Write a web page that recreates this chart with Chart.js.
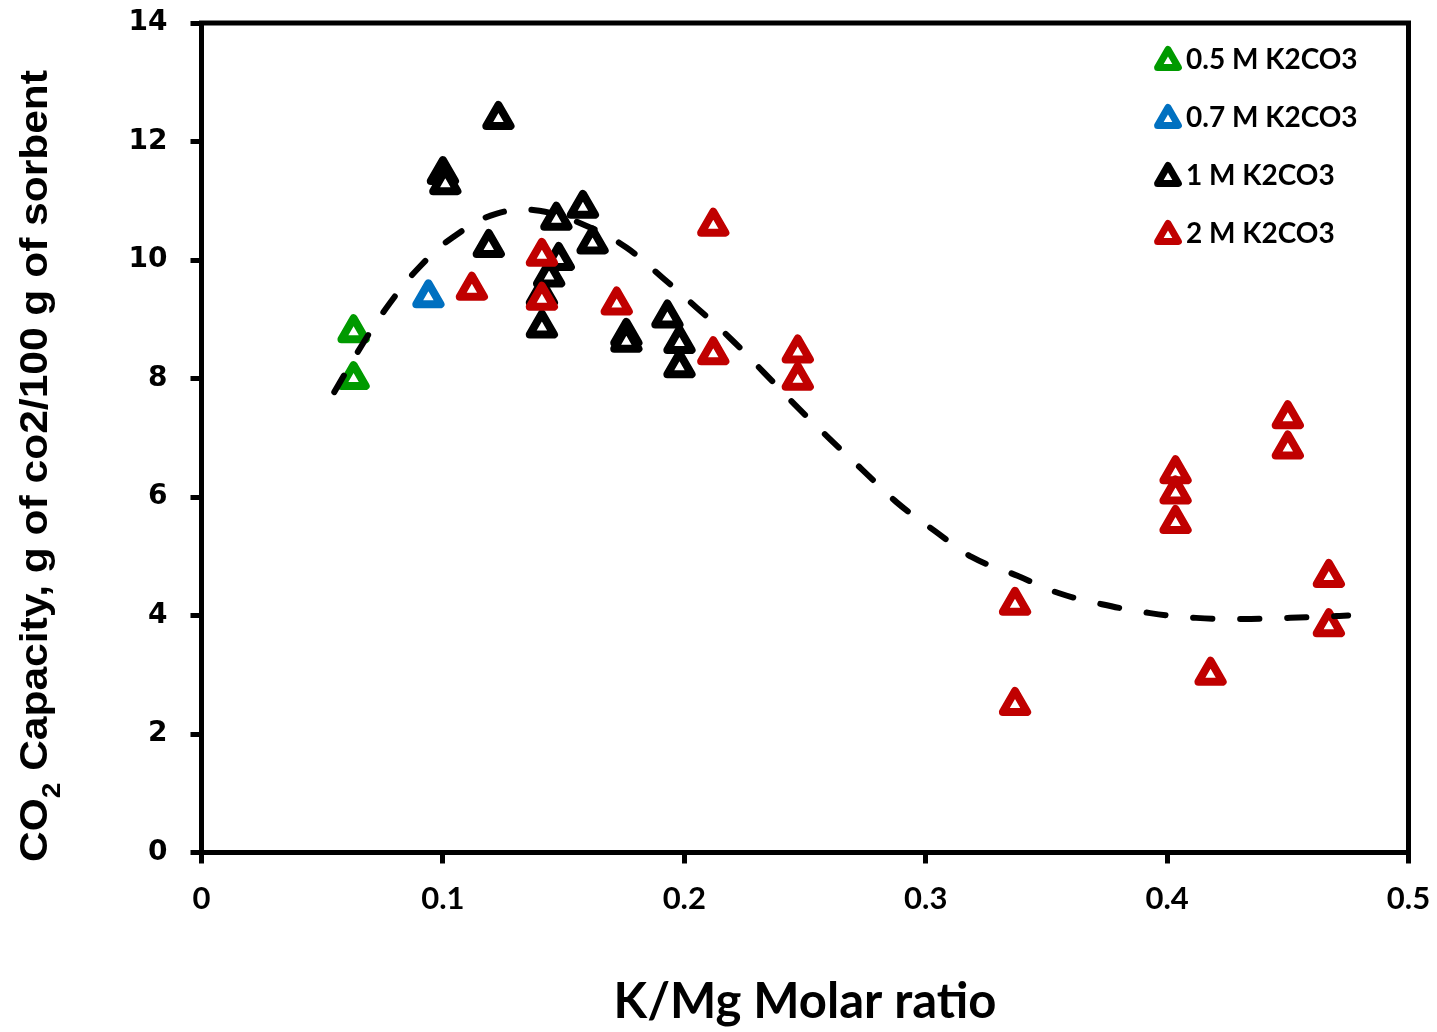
<!DOCTYPE html>
<html>
<head>
<meta charset="utf-8">
<script src="https://cdn.jsdelivr.net/npm/chart.js@4.4.1/dist/chart.umd.min.js"></script>
<style>
  html, body { margin: 0; padding: 0; background: #fff; }
  #wrap { width: 1437px; height: 1032px; }
</style>
</head>
<body>
<div id="wrap"><canvas id="chart"></canvas></div>
<script>
// values
const xTicks = [0, 0.1, 0.2, 0.3, 0.4, 0.5];
const yTicks = [0, 2, 4, 6, 8, 10, 12, 14];

const seriesLabels = ['0.5 M K2CO3', '0.7 M K2CO3', '1 M K2CO3', '2 M K2CO3'];

const k05X = [0.063, 0.063];
const k05Y = [8.78, 7.99];

const k07X = [0.094];
const k07Y = [9.37];

const k1X = [0.123, 0.100, 0.101, 0.119, 0.141, 0.141, 0.144, 0.148, 0.147, 0.158, 0.162, 0.176, 0.176, 0.193, 0.198, 0.198];
const k1Y = [12.38, 11.45, 11.28, 10.22, 8.86, 9.40, 9.72, 10.00, 10.68, 10.88, 10.28, 8.72, 8.62, 9.03, 8.60, 8.19];

const k2X = [0.112, 0.141, 0.141, 0.172, 0.212, 0.212, 0.247, 0.247, 0.337, 0.337, 0.4035, 0.4035, 0.4035, 0.418, 0.450, 0.450, 0.467, 0.467];
const k2Y = [9.50, 9.33, 10.07, 9.25, 10.58, 8.41, 8.44, 7.98, 4.18, 2.49, 6.40, 6.06, 5.56, 3.00, 7.33, 6.82, 4.65, 3.82];

// dashed trend line
const trendX = [0.055, 0.067, 0.078, 0.090, 0.104, 0.122, 0.140, 0.161, 0.176, 0.191, 0.205, 0.219, 0.233, 0.246, 0.260, 0.274, 0.288, 0.304, 0.319, 0.338, 0.355, 0.373, 0.393, 0.412, 0.431, 0.451, 0.470, 0.475];
const trendY = [7.77, 8.60, 9.27, 9.87, 10.38, 10.78, 10.83, 10.55, 10.21, 9.70, 9.20, 8.68, 8.10, 7.55, 6.99, 6.45, 5.91, 5.42, 4.99, 4.67, 4.38, 4.19, 4.04, 3.96, 3.94, 3.96, 3.99, 4.00];

const GREEN = '#009A00', BLUE = '#0070C0', BLACK = '#000000', RED = '#C00000';

function pts(xs, ys){
  return xs.map((x, i) => ({ x: x, y: ys[i] }));
}

function markerSet(label, xs, ys, color, order){
  return {
    label: label,
    data: pts(xs, ys),
    order: order,
    inLegend: true,
    pointStyle: 'triangle',
    pointRadius: 14,
    pointHoverRadius: 14,
    pointBorderWidth: 8,
    pointBorderColor: color,
    borderColor: color,
    pointBackgroundColor: '#fff',
    backgroundColor: '#fff',
    showLine: false
  };
}

// pin the axis sizes and drop the extra label padding so the plot box stays put
function pinScale(size, horizontal){
  return s => {
    if(horizontal){ s.height = size; } else { s.width = size; }
    s.paddingTop = 0; s.paddingBottom = 0; s.paddingLeft = 0; s.paddingRight = 0;
  };
}

// round corners on the triangle markers
const roundJoins = {
  id: 'roundJoins',
  beforeDatasetsDraw(chart){ chart.ctx.save(); chart.ctx.lineJoin = 'round'; },
  afterDatasetsDraw(chart){ chart.ctx.restore(); }
};

// box round the plot area
const frame = {
  id: 'frame',
  afterDraw(chart){
    const a = chart.chartArea, ctx = chart.ctx;
    ctx.save();
    ctx.strokeStyle = '#000';
    ctx.lineWidth = 5;
    ctx.strokeRect(a.left, a.top, a.right - a.left, a.bottom - a.top);
    ctx.restore();
  }
};

// legend in the top right corner
const cornerLegend = {
  id: 'cornerLegend',
  afterDraw(chart){
    const ctx = chart.ctx;
    const sets = chart.data.datasets.filter(d => d.inLegend);
    ctx.save();
    ctx.lineJoin = 'round';
    ctx.font = 'bold 28px Lato, "Open Sans", sans-serif';
    ctx.textAlign = 'left';
    ctx.textBaseline = 'middle';
    sets.forEach((d, i) => {
      const y = 59.5 + i * 58;
      ctx.strokeStyle = d.borderColor;
      ctx.fillStyle = '#fff';
      ctx.lineWidth = 7;
      Chart.helpers.drawPoint(ctx, { pointStyle: 'triangle', radius: 12, rotation: 0, borderWidth: 7 }, 1168, y + 2);
      ctx.fillStyle = '#000';
      ctx.fillText(d.label, 1186, y);
    });
    ctx.restore();
  }
};

// rotated y title with a subscript 2
const yTitle = {
  id: 'yTitle',
  afterDraw(chart){
    const ctx = chart.ctx;
    const big = 'bold 38px "Liberation Sans", Arial, sans-serif';
    const small = 'bold 25px "Liberation Sans", Arial, sans-serif';
    const rest = ' Capacity, g of co2/100 g of sorbent';
    ctx.save();
    ctx.font = big;
    const w1 = ctx.measureText('CO').width;
    const w3 = ctx.measureText(rest).width;
    ctx.font = small;
    const w2 = ctx.measureText('2').width;
    const total = w1 + w2 + w3;
    ctx.translate(33, 466);
    ctx.rotate(-Math.PI / 2);
    ctx.scale(792 / total, 1);
    ctx.fillStyle = '#000';
    ctx.textAlign = 'left';
    ctx.textBaseline = 'alphabetic';
    let x = -total / 2;
    ctx.font = big;
    ctx.fillText('CO', x, 13.6);
    x += w1;
    ctx.font = small;
    ctx.fillText('2', x, 26.6);
    x += w2;
    ctx.font = big;
    ctx.fillText(rest, x, 13.6);
    ctx.restore();
  }
};

const datasets = [
  {
    label: 'trend',
    data: pts(trendX, trendY),
    order: 0,
    showLine: true,
    borderColor: '#000',
    borderWidth: 6,
    borderDash: [19, 28],
    borderCapStyle: 'round',
    tension: 0.4,
    pointRadius: 0,
    pointHoverRadius: 0,
    fill: false
  },
  markerSet(seriesLabels[0], k05X, k05Y, GREEN, 2),
  markerSet(seriesLabels[1], k07X, k07Y, BLUE, 3),
  markerSet(seriesLabels[2], k1X, k1Y, BLACK, 4),
  markerSet(seriesLabels[3], k2X, k2Y, RED, 1)
];

new Chart(document.getElementById('chart'), {
  type: 'scatter',
  data: { datasets: datasets },
  options: {
    responsive: true,
    maintainAspectRatio: false,
    animation: false,
    layout: { padding: { left: 0, top: 23, right: 28.5, bottom: 0 } },
    plugins: {
      legend: { display: false },
      tooltip: { enabled: false }
    },
    scales: {
      x: {
        type: 'linear',
        min: 0,
        max: 0.5,
        afterBuildTicks: s => { s.ticks = xTicks.map(v => ({ value: v })); },
        afterFit: pinScale(179.5, true),
        grid: { drawOnChartArea: false, drawTicks: true, tickLength: 11, tickWidth: 5, tickColor: '#000' },
        border: { display: true, width: 5, color: '#000' },
        ticks: {
          color: '#000',
          padding: 17,
          font: { family: 'Lato, "Open Sans", sans-serif', size: 31, weight: 'bold' },
          callback: v => String(v)
        },
        title: {
          display: true,
          text: 'K/Mg Molar ratio',
          color: '#000',
          padding: { top: 0, bottom: 0 },
          font: { family: 'Lato, "Open Sans", sans-serif', size: 49, weight: 'bold' }
        }
      },
      y: {
        type: 'linear',
        min: 0,
        max: 14,
        afterBuildTicks: s => { s.ticks = yTicks.map(v => ({ value: v })); },
        afterFit: pinScale(201.5, false),
        grid: { drawOnChartArea: false, drawTicks: true, tickLength: 11, tickWidth: 5, tickColor: '#000' },
        border: { display: true, width: 5, color: '#000' },
        ticks: {
          color: '#000',
          padding: 23,
          font: { family: '"DejaVu Sans", sans-serif', size: 28, weight: 'bold' },
          callback: v => String(v)
        }
      }
    }
  },
  plugins: [roundJoins, frame, cornerLegend, yTitle]
});
</script>
</body>
</html>
